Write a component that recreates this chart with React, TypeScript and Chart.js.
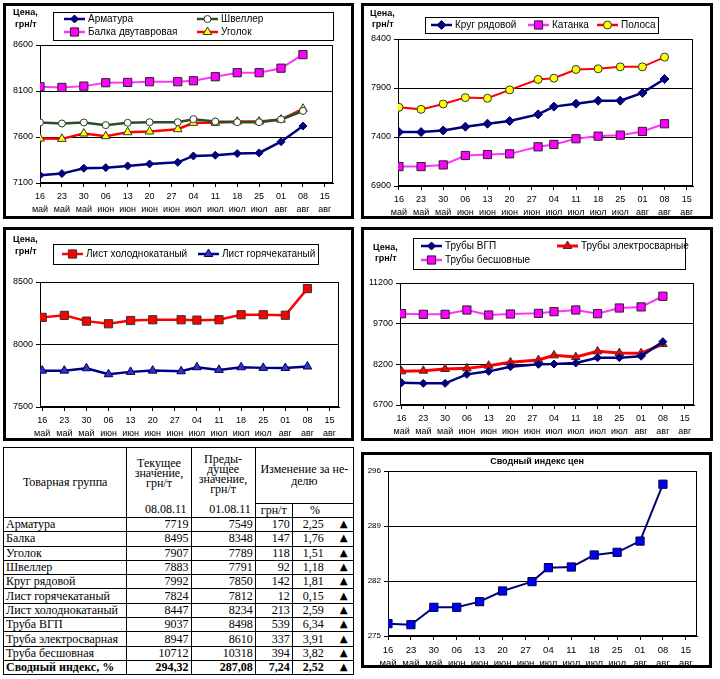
import React, { useEffect, useRef } from "react";
import { Chart, registerables } from "chart.js";
Chart.register(...registerables);

// ---------- DATA ----------
const tickDayLabels = ["16", "23", "30", "06", "13", "20", "27", "04", "11", "18", "25", "01", "08", "15"];
const tickMonthLabels = ["май", "май", "май", "июн", "июн", "июн", "июн", "июл", "июл", "июл", "июл", "авг", "авг", "авг"];
const tickDays = [0, 7, 14, 21, 28, 35, 42, 49, 56, 63, 70, 77, 84, 91];
const pointDays = [0, 7, 14, 21, 28, 35, 44, 49, 56, 63, 70, 77, 84];

const armatura = [7184, 7202, 7260, 7267, 7286, 7307, 7325, 7394, 7402, 7420, 7427, 7549, 7719];
const shveller = [7758, 7747, 7758, 7729, 7754, 7761, 7761, 7794, 7768, 7761, 7761, 7791, 7883];
const balka = [8146, 8139, 8153, 8190, 8193, 8201, 8201, 8211, 8255, 8299, 8299, 8348, 8495];
const ugolok = [7583, 7580, 7638, 7609, 7652, 7660, 7685, 7754, 7754, 7768, 7768, 7789, 7907];

const krug = [7450, 7450, 7467, 7505, 7536, 7563, 7631, 7710, 7740, 7771, 7771, 7850, 7992];
const katanka = [7098, 7098, 7115, 7211, 7221, 7228, 7300, 7324, 7382, 7409, 7419, 7457, 7535];
const polosa = [7703, 7682, 7737, 7802, 7795, 7881, 7987, 8000, 8089, 8096, 8116, 8116, 8215];

const listCold = [8217, 8233, 8187, 8166, 8192, 8198, 8198, 8195, 8198, 8238, 8238, 8234, 8447];
const listHot = [7791, 7791, 7810, 7762, 7781, 7791, 7786, 7818, 7797, 7818, 7813, 7812, 7824];

const pipeVGP = [7522, 7498, 7498, 7830, 7941, 8113, 8199, 8211, 8248, 8445, 8445, 8498, 9037];
const pipeWeld = [7941, 7965, 8027, 8051, 8150, 8273, 8359, 8531, 8469, 8678, 8617, 8610, 8947];
const pipeSeamless = [10068, 10044, 10044, 10204, 10019, 10056, 10081, 10142, 10204, 10068, 10278, 10318, 10712];

const priceIndex = [276.57, 276.44, 278.65, 278.65, 279.37, 280.73, 281.92, 283.7, 283.78, 285.31, 285.65, 287.08, 294.32];

const tableNames = [
  "Арматура", "Балка", "Уголок", "Швеллер", "Круг рядовой", "Лист горячекатаный",
  "Лист холоднокатаный", "Труба ВГП", "Труба электросварная", "Труба бесшовная", "Сводный индекс, %",
];
const currentValues = ["7719", "8495", "7907", "7883", "7992", "7824", "8447", "9037", "8947", "10712", "294,32"];
const previousValues = ["7549", "8348", "7789", "7791", "7850", "7812", "8234", "8498", "8610", "10318", "287,08"];
const changeAbs = ["170", "147", "118", "92", "142", "12", "213", "539", "337", "394", "7,24"];
const changePct = ["2,25", "1,76", "1,51", "1,18", "1,81", "0,15", "2,59", "6,34", "3,91", "3,82", "2,52"];

// ---------- HELPERS ----------
const SANS = "'Liberation Sans', Arial, sans-serif";
const SERIF = "'Liberation Serif', 'Times New Roman', serif";

type SeriesDef = {
  label: string;
  data: number[];
  color: string;
  width: number;
  style: string;
  radius: number;
  fill: string;
  stroke: string;
};

function drawMarker(ctx: CanvasRenderingContext2D, s: SeriesDef, x: number, y: number) {
  const r = s.radius;
  ctx.save();
  ctx.beginPath();
  if (s.style === "circle") {
    ctx.arc(x, y, r, 0, Math.PI * 2);
  } else if (s.style === "rect") {
    const h = r * Math.SQRT1_2;
    ctx.rect(x - h, y - h, 2 * h, 2 * h);
  } else if (s.style === "rectRot") {
    ctx.moveTo(x, y - r);
    ctx.lineTo(x + r, y);
    ctx.lineTo(x, y + r);
    ctx.lineTo(x - r, y);
    ctx.closePath();
  } else if (s.style === "triangle") {
    const side = (3 * r) / Math.sqrt(3);
    const height = (side * Math.sqrt(3)) / 2;
    ctx.moveTo(x, y - (2 * height) / 3);
    ctx.lineTo(x + side / 2, y + height / 3);
    ctx.lineTo(x - side / 2, y + height / 3);
    ctx.closePath();
  }
  ctx.fillStyle = s.fill;
  ctx.fill();
  ctx.lineWidth = 1;
  ctx.strokeStyle = s.stroke;
  ctx.stroke();
  ctx.restore();
}

const decorPlugin = {
  id: "decor",
  beforeDatasetsDraw(chart: any) {
    const { ctx, chartArea } = chart;
    ctx.save();
    ctx.strokeStyle = "#000";
    ctx.lineWidth = 1;
    const l = Math.round(chartArea.left) + 0.5;
    const t = Math.round(chartArea.top) + 0.5;
    const r = Math.round(chartArea.right) - 0.5;
    const b = Math.round(chartArea.bottom) - 0.5;
    ctx.strokeRect(l, t, r - l, b - t);
    ctx.restore();
  },
  afterDraw(chart: any, _args: any, opts: any) {
    const ctx: CanvasRenderingContext2D = chart.ctx;
    const series: SeriesDef[] = opts.series || [];
    ctx.save();
    if (opts.box) {
      const [x1, y1, x2, y2] = opts.box;
      ctx.fillStyle = "#fff";
      ctx.fillRect(x1, y1, x2 - x1, y2 - y1);
      ctx.strokeStyle = "#000";
      ctx.lineWidth = 1;
      ctx.strokeRect(x1 + 0.5, y1 + 0.5, x2 - x1, y2 - y1);
    }
    (opts.items || []).forEach((it: any) => {
      const s = series[it.ds];
      ctx.beginPath();
      ctx.strokeStyle = s.color;
      ctx.lineWidth = Math.max(s.width, 2.5);
      ctx.moveTo(it.x, it.y);
      ctx.lineTo(it.x + 21, it.y);
      ctx.stroke();
      drawMarker(ctx, s, it.x + 10.5, it.y);
      ctx.fillStyle = "#000";
      ctx.font = `10px ${SANS}`;
      ctx.textBaseline = "middle";
      ctx.textAlign = "left";
      ctx.fillText(s.label, it.x + 24, it.y + 0.5);
    });
    if (opts.yTitle) {
      ctx.fillStyle = "#000";
      ctx.font = `bold 9px ${SANS}`;
      ctx.textBaseline = "middle";
      ctx.textAlign = "left";
      opts.yTitle.lines.forEach((ln: string, i: number) => {
        ctx.fillText(ln, opts.yTitle.x[i], opts.yTitle.y[i]);
      });
    }
    if (opts.title) {
      ctx.fillStyle = "#000";
      ctx.font = `bold 9px ${SANS}`;
      ctx.textBaseline = "middle";
      ctx.textAlign = "center";
      ctx.fillText(opts.title.text, opts.title.x, opts.title.y);
    }
    ctx.restore();
  },
};

type ChartSpec = {
  series: SeriesDef[];
  yMin: number;
  yMax: number;
  yStep: number;
  xMin: number;
  xMax: number;
  yW: number;
  xH: number;
  padTop: number;
  padRight: number;
  yFont: number;
  xFont: number;
  decor: any;
};

function makeConfig(spec: ChartSpec): any {
  return {
    type: "line",
    data: {
      datasets: spec.series.map((s) => ({
        label: s.label,
        data: s.data.map((v, i) => ({ x: pointDays[i], y: v })),
        borderColor: s.color,
        borderWidth: s.width,
        pointStyle: s.style,
        pointRadius: s.radius,
        pointBackgroundColor: s.fill,
        pointBorderColor: s.stroke,
        pointBorderWidth: 1,
        tension: 0,
        fill: false,
      })),
    },
    options: {
      animation: false,
      responsive: false,
      devicePixelRatio: 1,
      events: [],
      layout: { padding: { top: spec.padTop, right: spec.padRight, left: 0, bottom: 0 } },
      plugins: {
        legend: { display: false },
        tooltip: { enabled: false },
        decor: { ...spec.decor, series: spec.series },
      },
      scales: {
        x: {
          type: "linear",
          min: spec.xMin,
          max: spec.xMax,
          afterBuildTicks: (axis: any) => {
            axis.ticks = tickDays.map((v) => ({ value: v }));
          },
          afterFit: (axis: any) => {
            axis.height = spec.xH;
          },
          grid: { drawOnChartArea: false, drawTicks: true, tickLength: 4, color: "#000" },
          border: { color: "#000", width: 1 },
          ticks: {
            autoSkip: false,
            maxRotation: 0,
            padding: 3,
            color: "#000",
            font: { family: SANS, size: spec.xFont, lineHeight: 1.45 },
            callback: (value: number) => {
              const i = tickDays.indexOf(Math.round(value));
              return i >= 0 ? [tickDayLabels[i], tickMonthLabels[i]] : "";
            },
          },
        },
        y: {
          type: "linear",
          min: spec.yMin,
          max: spec.yMax,
          afterFit: (axis: any) => {
            axis.width = spec.yW;
          },
          grid: { color: "#000", lineWidth: 1, drawTicks: true, tickLength: 4 },
          border: { color: "#000", width: 1 },
          ticks: {
            stepSize: spec.yStep,
            padding: 3,
            color: "#000",
            font: { family: SANS, size: spec.yFont },
            callback: (value: number) => String(value),
          },
        },
      },
    },
    plugins: [decorPlugin],
  };
}

function ChartPanel(props: { left: number; top: number; width: number; height: number; spec: ChartSpec }) {
  const ref = useRef<HTMLCanvasElement>(null);
  const cw = props.width - 6;
  const ch = props.height - 6;
  useEffect(() => {
    if (!ref.current) return;
    const chart = new Chart(ref.current, makeConfig(props.spec));
    return () => chart.destroy();
  }, []);
  return (
    <div
      style={{
        position: "absolute",
        left: props.left,
        top: props.top,
        width: cw,
        height: ch,
        border: "3px solid #000",
        background: "#fff",
      }}
    >
      <canvas ref={ref} width={cw} height={ch} style={{ display: "block", width: cw, height: ch }} />
    </div>
  );
}

// ---------- SERIES ----------
const s1: SeriesDef[] = [
  { label: "Арматура", data: armatura, color: "#000080", width: 2.5, style: "rectRot", radius: 4, fill: "#000080", stroke: "#000060" },
  { label: "Швеллер", data: shveller, color: "#245224", width: 2.5, style: "circle", radius: 3.5, fill: "#ffffff", stroke: "#333333" },
  { label: "Балка двутавровая", data: balka, color: "#FF33FF", width: 2, style: "rect", radius: 5.8, fill: "#FF00FF", stroke: "#222222" },
  { label: "Уголок", data: ugolok, color: "#FF0000", width: 2.5, style: "triangle", radius: 5, fill: "#FFFF00", stroke: "#333333" },
];
const s2: SeriesDef[] = [
  { label: "Круг рядовой", data: krug, color: "#000080", width: 2.5, style: "rectRot", radius: 4.5, fill: "#000080", stroke: "#000060" },
  { label: "Катанка", data: katanka, color: "#FF33FF", width: 2, style: "rect", radius: 5.8, fill: "#FF00FF", stroke: "#222222" },
  { label: "Полоса", data: polosa, color: "#FF0000", width: 2, style: "circle", radius: 4, fill: "#FFFF00", stroke: "#333333" },
];
const s3: SeriesDef[] = [
  { label: "Лист холоднокатаный", data: listCold, color: "#FF0000", width: 2.5, style: "rect", radius: 5.8, fill: "#FF0000", stroke: "#333333" },
  { label: "Лист горячекатаный", data: listHot, color: "#000080", width: 2.5, style: "triangle", radius: 5, fill: "#3333CC", stroke: "#000060" },
];
const s4: SeriesDef[] = [
  { label: "Трубы ВГП", data: pipeVGP, color: "#000080", width: 2.5, style: "rectRot", radius: 4, fill: "#000080", stroke: "#000060" },
  { label: "Трубы электросварные", data: pipeWeld, color: "#FF0000", width: 3, style: "triangle", radius: 5, fill: "#FF0000", stroke: "#333333" },
  { label: "Трубы бесшовные", data: pipeSeamless, color: "#FF33FF", width: 2, style: "rect", radius: 5.8, fill: "#FF00FF", stroke: "#222222" },
];
const s6: SeriesDef[] = [
  { label: "Сводный индекс цен", data: priceIndex, color: "#000080", width: 2, style: "rect", radius: 5.8, fill: "#0000FF", stroke: "#000033" },
];

const spec1: ChartSpec = {
  series: s1, yMin: 7100, yMax: 8600, yStep: 500, xMin: 0, xMax: 93.6,
  yW: 34, xH: 33, padTop: 39, padRight: 18, yFont: 9, xFont: 9,
  decor: {
    box: [47, 6, 327, 34],
    items: [
      { ds: 0, x: 58, y: 13 },
      { ds: 1, x: 191, y: 13 },
      { ds: 2, x: 58, y: 26 },
      { ds: 3, x: 191, y: 26 },
    ],
    yTitle: { lines: ["Цена,", "грн/т"], x: [7, 9], y: [7, 19] },
  },
};
const spec2: ChartSpec = {
  series: s2, yMin: 6900, yMax: 8400, yStep: 500, xMin: -0.3, xMax: 93,
  yW: 34, xH: 30, padTop: 33, padRight: 17, yFont: 9, xFont: 9,
  decor: {
    box: [61, 11, 294, 27],
    items: [
      { ds: 0, x: 67, y: 19 },
      { ds: 1, x: 164, y: 19 },
      { ds: 2, x: 233, y: 19 },
    ],
    yTitle: { lines: ["Цена,", "грн/т"], x: [6, 8], y: [8, 19] },
  },
};
const spec3: ChartSpec = {
  series: s3, yMin: 7500, yMax: 8500, yStep: 500, xMin: -0.7, xMax: 94,
  yW: 34, xH: 31, padTop: 52, padRight: 12, yFont: 9, xFont: 9,
  decor: {
    box: [47, 14, 312, 34],
    items: [
      { ds: 0, x: 56, y: 24 },
      { ds: 1, x: 192, y: 24 },
    ],
    yTitle: { lines: ["Цена,", "грн/т"], x: [7, 9], y: [10, 22] },
  },
};
const spec4: ChartSpec = {
  series: s4, yMin: 6700, yMax: 11200, yStep: 1500, xMin: -0.5, xMax: 94,
  yW: 36, xH: 33, padTop: 53, padRight: 16, yFont: 9, xFont: 9,
  decor: {
    box: [49, 8, 321, 39],
    items: [
      { ds: 0, x: 57, y: 16 },
      { ds: 1, x: 193, y: 16 },
      { ds: 2, x: 57, y: 30 },
    ],
    yTitle: { lines: ["Цена,", "грн/т"], x: [9, 11], y: [18, 29] },
  },
};
const spec6: ChartSpec = {
  series: s6, yMin: 275, yMax: 296, yStep: 7, xMin: 0, xMax: 94.4,
  yW: 24, xH: 29, padTop: 16, padRight: 12, yFont: 8, xFont: 9.5,
  decor: {
    title: { text: "Сводный индекс цен", x: 173, y: 7 },
  },
};

// ---------- TABLE ----------
const cellB = "1px solid #000";

function PriceTable() {
  const td = (extra: React.CSSProperties = {}): React.CSSProperties => ({
    border: cellB,
    padding: "0 2px",
    fontFamily: SERIF,
    fontSize: 12,
    lineHeight: "13px",
    height: 13,
    whiteSpace: "nowrap",
    overflow: "hidden",
    ...extra,
  });
  return (
    <div style={{ position: "absolute", left: 3, top: 447, width: 351, background: "#fff" }}>
      <table
        style={{
          borderCollapse: "collapse",
          tableLayout: "fixed",
          width: 351,
          border: "1px solid #000",
          fontFamily: SERIF,
          fontSize: 12,
          color: "#000",
        }}
      >
        <colgroup>
          <col style={{ width: 123 }} />
          <col style={{ width: 64 }} />
          <col style={{ width: 64 }} />
          <col style={{ width: 37 }} />
          <col style={{ width: 61 }} />
        </colgroup>
        <tbody>
          <tr style={{ height: 55 }}>
            <td rowSpan={2} style={td({ textAlign: "center", verticalAlign: "middle", height: 69 })}>
              Товарная группа
            </td>
            <td rowSpan={2} style={td({ padding: 0, verticalAlign: "top", height: 69 })}>
              <div style={{ height: 69, position: "relative" }}>
                <div style={{ position: "absolute", top: 10, left: 0, right: 0, textAlign: "center", lineHeight: "10px", whiteSpace: "normal" }}>
                  Текущее<br />значение,<br />грн/т
                </div>
                <div style={{ position: "absolute", bottom: 1, right: 4, lineHeight: "13px" }}>08.08.11</div>
              </div>
            </td>
            <td rowSpan={2} style={td({ padding: 0, verticalAlign: "top", height: 69 })}>
              <div style={{ height: 69, position: "relative" }}>
                <div style={{ position: "absolute", top: 6, left: 0, right: 0, textAlign: "center", lineHeight: "10px", whiteSpace: "normal" }}>
                  Преды-<br />дущее<br />значение,<br />грн/т
                </div>
                <div style={{ position: "absolute", bottom: 1, right: 4, lineHeight: "13px" }}>01.08.11</div>
              </div>
            </td>
            <td colSpan={2} style={td({ textAlign: "center", verticalAlign: "middle", lineHeight: "12px", whiteSpace: "normal", height: 54 })}>
              Изменение за не-<br />делю
            </td>
          </tr>
          <tr style={{ height: 14 }}>
            <td style={td({ textAlign: "center" })}>грн/т</td>
            <td style={td({ textAlign: "center", paddingRight: 18 })}>%</td>
          </tr>
          {tableNames.map((name, i) => {
            const bold = i === tableNames.length - 1;
            const w = bold ? "bold" : "normal";
            return (
              <tr key={name} style={{ height: 14 }}>
                <td style={td({ fontWeight: w, height: 13.3 })}>{name}</td>
                <td style={td({ textAlign: "right", fontWeight: w })}>{currentValues[i]}</td>
                <td style={td({ textAlign: "right", fontWeight: w })}>{previousValues[i]}</td>
                <td style={td({ textAlign: "right", fontWeight: w })}>{changeAbs[i]}</td>
                <td style={td({ fontWeight: w, padding: "0 5px 0 10px" })}>
                  <div style={{ display: "flex", justifyContent: "space-between" }}>
                    <span>{changePct[i]}</span>
                    <span style={{ fontSize: 12, fontFamily: "'DejaVu Sans', sans-serif", transform: "scale(0.85)" }}>▲</span>
                  </div>
                </td>
              </tr>
            );
          })}
        </tbody>
      </table>
    </div>
  );
}

export default function App() {
  return (
    <div style={{ position: "absolute", left: 0, top: 0, width: 720, height: 679, background: "#fff", overflow: "hidden" }}>
      <ChartPanel left={3} top={3} width={351} height={216} spec={spec1} />
      <ChartPanel left={361} top={3} width={352} height={216} spec={spec2} />
      <ChartPanel left={3} top={227} width={351} height={214} spec={spec3} />
      <ChartPanel left={361} top={227} width={352} height={214} spec={spec4} />
      <PriceTable />
      <ChartPanel left={361} top={452} width={351} height={216} spec={spec6} />
    </div>
  );
}
